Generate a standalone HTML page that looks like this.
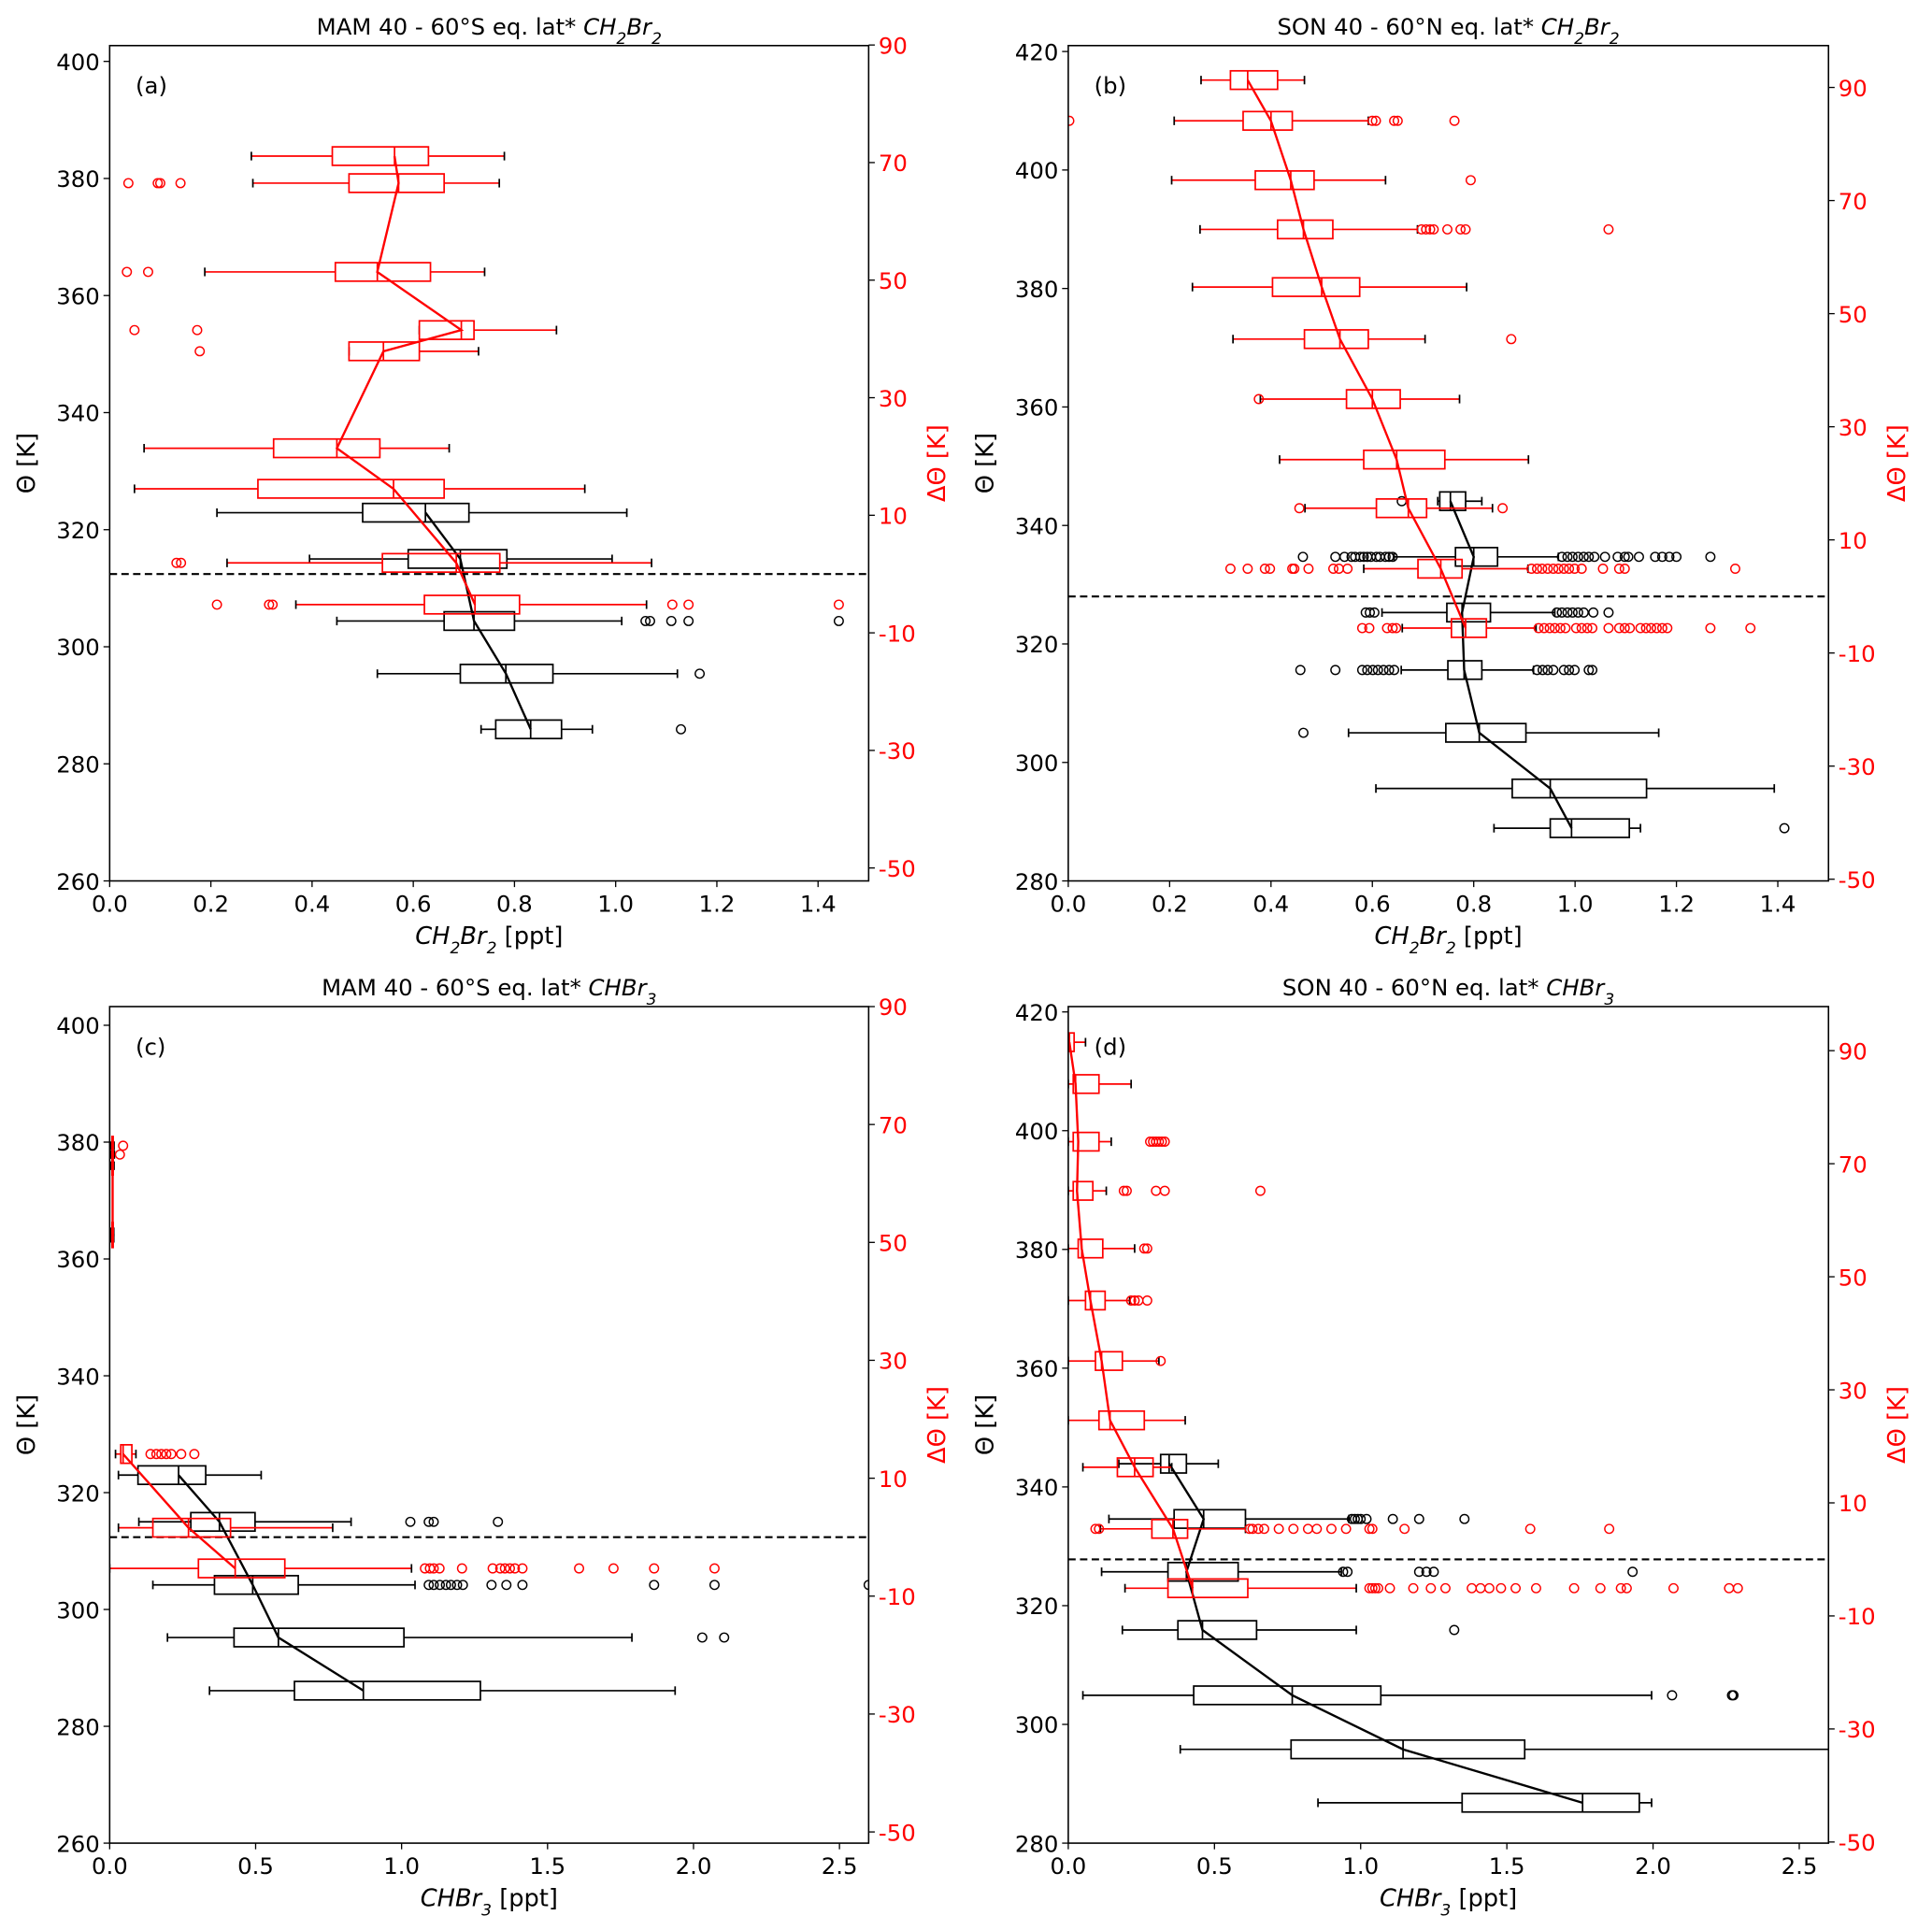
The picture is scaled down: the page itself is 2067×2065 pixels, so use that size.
<!DOCTYPE html>
<html><head><meta charset="utf-8">
<style>
html,body{margin:0;padding:0;background:#fff;}
svg{display:block;}
text{font-family:"DejaVu Sans","Liberation Sans",sans-serif;}
</style></head>
<body>
<svg id="fig" xmlns="http://www.w3.org/2000/svg" width="2067" height="2065" viewBox="0 0 1568 1566.5"></svg>
<script>
// ---------- Panel (a) data: MAM CH2Br2 ----------
const aBlackTheta = [322.9, 315.0, 304.4, 295.4, 285.9];
const aBlackStats = [[0.212,0.50,0.624,0.71,1.022],[0.395,0.59,0.693,0.785,0.993],[0.449,0.661,0.72,0.80,1.012],[0.529,0.693,0.783,0.876,1.122],[0.734,0.763,0.832,0.893,0.954]];
const aBlackOut = [[],[],[1.059,1.068,1.11,1.144,1.441],[1.166],[1.129]];
const aRedDTheta = [71.1, 66.5, 51.4, 41.5, 37.9, 21.4, 14.5, 1.9, -5.2];
const aRedStats = [[0.28,0.44,0.563,0.63,0.78],[0.283,0.473,0.571,0.661,0.77],[0.188,0.446,0.529,0.634,0.741],[0.612,0.612,0.695,0.72,0.883],[0.473,0.473,0.541,0.612,0.729],[0.068,0.324,0.449,0.534,0.671],[0.049,0.293,0.561,0.661,0.939],[0.232,0.539,0.685,0.771,1.071],[0.368,0.622,0.722,0.81,1.061]];
const aRedOut = [[],[0.037,0.095,0.10,0.14],[0.034,0.076],[0.049,0.173],[0.178],[],[],[0.132,0.141],[0.212,0.315,0.322,1.112,1.144,1.441]];

// ---------- Panel (b) data: SON CH2Br2 ----------
const bBlackTheta = [344.1, 334.7, 325.3, 315.6, 305.0, 295.6, 288.9];
const bBlackStats = [[0.729,0.733,0.754,0.784,0.816],[0.643,0.764,0.80,0.847,0.967],[0.619,0.747,0.777,0.833,0.96],[0.657,0.749,0.781,0.816,0.918],[0.553,0.745,0.811,0.903,1.165],[0.607,0.876,0.951,1.141,1.393],[0.84,0.951,0.993,1.107,1.129]];
const bBlackOut = [[0.658],[0.463,0.527,0.545,0.559,0.566,0.576,0.583,0.59,0.597,0.608,0.615,0.626,0.633,0.64,0.974,0.985,0.995,1.006,1.017,1.027,1.038,1.059,1.084,1.098,1.105,1.126,1.158,1.172,1.186,1.2,1.267],[0.587,0.595,0.604,0.964,0.974,0.985,0.995,1.006,1.017,1.036,1.066],[0.458,0.527,0.58,0.59,0.601,0.611,0.622,0.633,0.643,0.925,0.936,0.946,0.957,0.978,0.988,0.999,1.027,1.034],[0.464],[],[1.413]];
const bRedDTheta = [91.3, 84.1, 73.6, 64.9, 54.7, 45.5, 34.9, 24.2, 15.6, 4.9, -5.6];
const bRedStats = [[0.262,0.32,0.354,0.413,0.466],[0.209,0.345,0.40,0.442,0.592],[0.204,0.369,0.439,0.485,0.626],[0.26,0.413,0.464,0.522,0.689],[0.245,0.403,0.50,0.575,0.786],[0.325,0.466,0.536,0.592,0.704],[0.379,0.549,0.60,0.655,0.772],[0.417,0.583,0.648,0.743,0.908],[0.467,0.608,0.671,0.707,0.837],[0.583,0.69,0.735,0.777,0.907],[0.659,0.756,0.784,0.825,0.923]];
const bRedOut = [[],[0.002,0.60,0.607,0.643,0.65,0.762],[0.794],[0.697,0.706,0.714,0.721,0.748,0.774,0.784,1.066],[],[0.874],[0.376],[],[0.456,0.857],[0.32,0.354,0.388,0.398,0.442,0.446,0.474,0.523,0.534,0.551,0.914,0.925,0.935,0.946,0.957,0.967,0.978,0.988,0.999,1.013,1.055,1.087,1.098,1.316],[0.58,0.594,0.629,0.64,0.647,0.928,0.939,0.95,0.96,0.971,0.981,1.002,1.013,1.024,1.034,1.066,1.087,1.098,1.108,1.129,1.14,1.15,1.161,1.172,1.182,1.267,1.346]];

// ---------- Panel (c) data: MAM CHBr3 ----------
const cBlackTheta = [323.0, 315.0, 304.2, 295.2, 286.1];
const cBlackStats = [[0.03,0.097,0.236,0.329,0.519],[0.10,0.278,0.376,0.498,0.827],[0.148,0.359,0.49,0.646,1.046],[0.198,0.426,0.578,1.008,1.789],[0.342,0.633,0.869,1.27,1.937]];
const cBlackOut = [[],[1.03,1.093,1.11,1.33],[1.093,1.11,1.131,1.152,1.169,1.19,1.21,1.308,1.359,1.414,1.865,2.072,2.6],[2.03,2.105],[]];
const cRedDTheta = [66.4, 64.9, 63.0, 51.8, 50.7, 14.1, 1.6, -5.3];
const cRedStats = [[0.005,0.008,0.01,0.012,0.015],[0.005,0.008,0.01,0.012,0.016],[0.005,0.008,0.01,0.012,0.015],[0.005,0.008,0.01,0.012,0.014],[0.005,0.008,0.01,0.012,0.014],[0.02,0.038,0.046,0.076,0.09],[0.03,0.148,0.27,0.414,0.764],[0.0,0.304,0.43,0.60,1.034]];
const cRedOut = [[0.046],[0.035],[],[],[],[0.14,0.16,0.177,0.194,0.211,0.245,0.29],[],[1.08,1.097,1.11,1.13,1.207,1.312,1.338,1.354,1.371,1.388,1.414,1.608,1.726,1.865,2.072]];
const cRedBreak = [5];

// ---------- Panel (d) data: SON CHBr3 ----------
const dBlackTheta = [343.9, 334.6, 325.7, 315.9, 304.9, 295.8, 286.8];
const dBlackStats = [[0.173,0.316,0.345,0.404,0.513],[0.139,0.362,0.463,0.606,0.96],[0.114,0.341,0.404,0.581,0.934],[0.185,0.375,0.459,0.644,0.985],[0.05,0.429,0.766,1.069,1.995],[0.383,0.762,1.145,1.561,2.9],[0.854,1.347,1.759,1.953,1.995]];
const dBlackOut = [[],[0.97,0.98,0.99,1.0,1.02,1.11,1.2,1.355],[0.94,0.955,1.2,1.225,1.25,1.93],[1.32],[2.065,2.27,2.275],[],[]];
const dRedDTheta = [91.5, 84.1, 73.9, 65.2, 55.0, 45.8, 35.1, 24.6, 16.3, 5.4, -5.1];
const dRedStats = [[0.0,0.0,0.004,0.02,0.059],[0.0,0.017,0.025,0.105,0.215],[0.0,0.017,0.034,0.105,0.147],[0.0,0.017,0.03,0.084,0.13],[0.0,0.034,0.046,0.118,0.227],[0.0,0.059,0.076,0.126,0.21],[0.0,0.093,0.114,0.185,0.31],[0.0,0.105,0.143,0.26,0.40],[0.05,0.168,0.227,0.29,0.354],[0.11,0.286,0.358,0.408,0.606],[0.194,0.341,0.425,0.614,0.985]];
const dRedOut = [[],[],[0.28,0.29,0.30,0.31,0.32,0.33],[0.19,0.2,0.3,0.33,0.657],[0.26,0.27],[0.215,0.227,0.24,0.27],[0.316],[],[],[0.093,0.105,0.62,0.63,0.65,0.67,0.72,0.77,0.82,0.85,0.9,0.95,1.03,1.04,1.15,1.58,1.85],[1.03,1.04,1.05,1.06,1.1,1.18,1.24,1.29,1.38,1.41,1.44,1.48,1.53,1.6,1.73,1.82,1.89,1.91,2.07,2.26,2.29]];

const aXTicks = ["0.0","0.2","0.4","0.6","0.8","1.0","1.2","1.4"];
const cXTicks = ["0.0","0.5","1.0","1.5","2.0","2.5"];
const dThetaTicks = ["-50","-30","-10","10","30","50","70","90"];

const NS = "http://www.w3.org/2000/svg";
const svg = document.getElementById('fig');
function mk(tag, attrs, parent, text){
  const e = document.createElementNS(NS, tag);
  for (const k in attrs) e.setAttribute(k, attrs[k]);
  if (text !== undefined) e.textContent = text;
  (parent||svg).appendChild(e);
  return e;
}
const FS = 18.5;

function panel(cfg){
  const g = mk('g', {});
  
  
  const {x0,x1,y0,y1,xmax,tmin,tmax,dmin,dmax} = cfg;
  const xs = v => x0 + Math.min(v, xmax*1.2)/xmax*(x1-x0);
  const ys = t => y1 - (t-tmin)/(tmax-tmin)*(y1-y0);
  const yd = d => y1 - (d-dmin)/(dmax-dmin)*(y1-y0);
  const clip = 'clip-' + cfg.id;
  const cp = mk('clipPath', {id: clip}, g);
  mk('rect', {x:x0, y:y0, width:x1-x0, height:y1-y0}, cp);

  const dz = mk('line', {x1:x0, x2:x1, y1:yd(0), y2:yd(0), stroke:'#000', 'stroke-width':1.6, 'stroke-dasharray':'6,3.5'}, g);
  
  

  const plot = mk('g', {'clip-path':'url(#'+clip+')'}, g);
  function series(pos, yfn, stats, outs, color, name, breaks){
    const sg = mk('g', {}, plot);
    
    
    const h = 7.5;
    const segs = [[]];
    pos.forEach((p,i) => {
      const y = yfn(p), s = stats[i];
      if (breaks && breaks.indexOf(i) >= 0) segs.push([]);
      const bg = mk('g', {}, sg);
      
      
      mk('line', {x1:xs(s[0]), x2:xs(s[1]), y1:y, y2:y, stroke:color, 'stroke-width':1.3}, bg);
      mk('line', {x1:xs(s[3]), x2:xs(s[4]), y1:y, y2:y, stroke:color, 'stroke-width':1.3}, bg);
      mk('line', {x1:xs(s[0]), x2:xs(s[0]), y1:y-3.5, y2:y+3.5, stroke:'#000', 'stroke-width':1.3}, bg);
      mk('line', {x1:xs(s[4]), x2:xs(s[4]), y1:y-3.5, y2:y+3.5, stroke:'#000', 'stroke-width':1.3}, bg);
      mk('rect', {x:xs(s[1]), y:y-h, width:Math.max(0.5, xs(s[3])-xs(s[1])), height:2*h, fill:'none', stroke:color, 'stroke-width':1.3}, bg);
      mk('line', {x1:xs(s[2]), x2:xs(s[2]), y1:y-h, y2:y+h, stroke:color, 'stroke-width':1.3}, bg);
      (outs[i]||[]).forEach(o => {
        const c = mk('circle', {cx:xs(o), cy:y, r:3.6, fill:'none', stroke:color, 'stroke-width':1.1}, bg);
        
        
      });
      segs[segs.length-1].push(xs(s[2]).toFixed(1) + ',' + y.toFixed(1));
    });
    segs.forEach(pts => {
      const pl = mk('polyline', {points: pts.join(' '), fill:'none', stroke:color, 'stroke-width':1.8}, sg);
      
      
    });
  }
  series(cfg.bT, ys, cfg.bS, cfg.bO, '#000', 'theta-series', null);
  series(cfg.rD, yd, cfg.rS, cfg.rO, '#ff0000', 'delta-theta-series', cfg.rB);

  const fr = mk('rect', {x:x0, y:y0, width:x1-x0, height:y1-y0, fill:'none', stroke:'#000', 'stroke-width':1.2}, g);
  
  

  const xg = mk('g', {}, g);
  
  
  cfg.xticks.forEach(t => {
    const x = xs(parseFloat(t));
    mk('line', {x1:x, x2:x, y1:y1, y2:y1+5, stroke:'#000', 'stroke-width':1}, xg);
    mk('text', {x:x, y:y1+25, 'font-size':FS, 'text-anchor':'middle'}, xg, t);
  });
  const lg = mk('g', {}, g);
  
  
  for (let t = cfg.tt0; t <= tmax; t += 20){
    const y = ys(t);
    mk('line', {x1:x0-5, x2:x0, y1:y, y2:y, stroke:'#000', 'stroke-width':1}, lg);
    mk('text', {x:x0-8, y:y+7, 'font-size':FS, 'text-anchor':'end'}, lg, String(t));
  }
  const rg = mk('g', {}, g);
  
  
  dThetaTicks.forEach(t => {
    const y = yd(parseFloat(t));
    mk('line', {x1:x1, x2:x1+5, y1:y, y2:y, stroke:'#000', 'stroke-width':1}, rg);
    mk('text', {x:x1+8, y:y+7, 'font-size':FS, fill:'#ff0000'}, rg, t);
  });
  const cx = (x0+x1)/2, cy = (y0+y1)/2;
  const tt = mk('text', {x:cx, y:y0-9, 'font-size':FS, 'text-anchor':'middle'}, g);
  
  
  tt.innerHTML = cfg.title;
  const xl = mk('text', {x:cx, y:y1+51, 'font-size':19.5, 'text-anchor':'middle'}, g);
  
  
  xl.innerHTML = cfg.xlabel;
  const yl = mk('text', {x:0, y:0, 'font-size':19.5, 'text-anchor':'middle', transform:'translate('+(x0-61)+','+cy+') rotate(-90)'}, g, 'Θ [K]');
  
  
  const rl = mk('text', {x:0, y:0, 'font-size':19.5, fill:'#ff0000', 'text-anchor':'middle', transform:'translate('+(x1+62)+','+cy+') rotate(-90)'}, g, 'ΔΘ [K]');
  
  
  const pl = mk('text', {x:x0+21, y:y0+39, 'font-size':FS}, g, cfg.letter);
  
  
}

const ch2 = 'CH<tspan baseline-shift="sub" font-size="13">2</tspan>Br<tspan baseline-shift="sub" font-size="13">2</tspan>';
const chb = 'CHBr<tspan baseline-shift="sub" font-size="13">3</tspan>';
panel({id:'a', letter:'(a)', x0:89, x1:705, y0:37, y1:715, xmax:1.5, tmin:260, tmax:402.7, tt0:260, dmin:-52.2, dmax:89.9,
  xticks:aXTicks, bT:aBlackTheta, bS:aBlackStats, bO:aBlackOut, rD:aRedDTheta, rS:aRedStats, rO:aRedOut, rB:null,
  title:'MAM 40 - 60°S eq. lat* <tspan font-style="italic">'+ch2+'</tspan>', xlabel:'<tspan font-style="italic">'+ch2+'</tspan> [ppt]'});
panel({id:'b', letter:'(b)', x0:867, x1:1484, y0:37, y1:715, xmax:1.5, tmin:280, tmax:421, tt0:280, dmin:-50.3, dmax:97.4,
  xticks:aXTicks, bT:bBlackTheta, bS:bBlackStats, bO:bBlackOut, rD:bRedDTheta, rS:bRedStats, rO:bRedOut, rB:null,
  title:'SON 40 - 60°N eq. lat* <tspan font-style="italic">'+ch2+'</tspan>', xlabel:'<tspan font-style="italic">'+ch2+'</tspan> [ppt]'});
panel({id:'c', letter:'(c)', x0:89, x1:705, y0:817, y1:1496, xmax:2.6, tmin:260, tmax:403.2, tt0:260, dmin:-51.9, dmax:90,
  xticks:cXTicks, bT:cBlackTheta, bS:cBlackStats, bO:cBlackOut, rD:cRedDTheta, rS:cRedStats, rO:cRedOut, rB:cRedBreak,
  title:'MAM 40 - 60°S eq. lat* <tspan font-style="italic">'+chb+'</tspan>', xlabel:'<tspan font-style="italic">'+chb+'</tspan> [ppt]'});
panel({id:'d', letter:'(d)', x0:867, x1:1484, y0:817, y1:1496, xmax:2.6, tmin:280, tmax:420.9, tt0:280, dmin:-50.2, dmax:97.8,
  xticks:cXTicks, bT:dBlackTheta, bS:dBlackStats, bO:dBlackOut, rD:dRedDTheta, rS:dRedStats, rO:dRedOut, rB:null,
  title:'SON 40 - 60°N eq. lat* <tspan font-style="italic">'+chb+'</tspan>', xlabel:'<tspan font-style="italic">'+chb+'</tspan> [ppt]'});
</script>
</body></html>
